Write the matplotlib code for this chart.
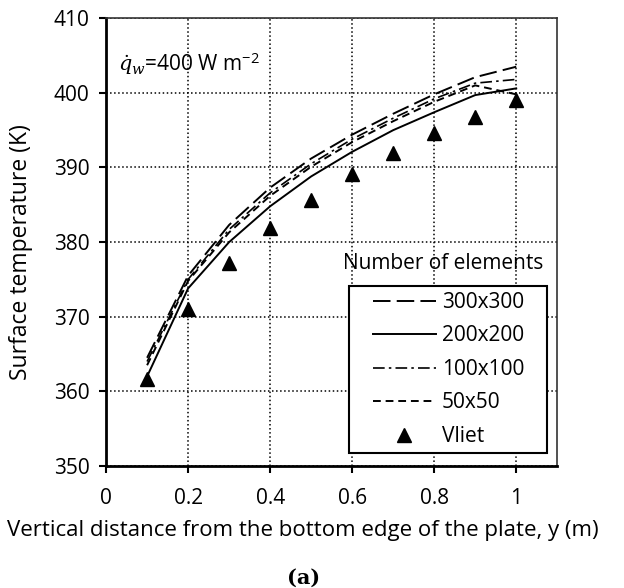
import numpy as np
import matplotlib.pyplot as plt
from matplotlib.patches import Rectangle

# data
y_pos = [0.1, 0.2, 0.3, 0.4, 0.5, 0.6, 0.7, 0.8, 0.9, 1.0]
t_300 = [364.5, 375.5, 382.3, 387.3, 391.2, 394.4, 397.2, 399.8, 402.1, 403.5]
t_200 = [362.0, 373.8, 380.0, 384.8, 388.8, 392.1, 395.0, 397.4, 399.7, 400.6]
t_100 = [364.0, 375.0, 381.7, 386.6, 390.5, 393.8, 396.6, 399.2, 401.3, 401.8]
t_50 = [363.5, 374.8, 381.3, 386.2, 390.1, 393.4, 396.2, 398.8, 401.0, 399.8]
t_vliet = [361.7, 371.0, 377.2, 381.9, 385.6, 389.1, 391.9, 394.6, 396.8, 399.0]

plt.rcParams['font.family'] = ['Open Sans', 'DejaVu Sans']
plt.rcParams['mathtext.fontset'] = 'dejavuserif'

fig = plt.figure(figsize=(6.24, 5.88), dpi=100)
ax = fig.add_axes([0.170, 0.2075, 0.723, 0.7615])

ax.plot(y_pos, t_300, color='black', lw=1.4, dashes=(9, 3.2), label='300x300')
ax.plot(y_pos, t_200, color='black', lw=1.4, ls='-', label='200x200')
ax.plot(y_pos, t_100, color='black', lw=1.2, dashes=(7, 2.5, 1.5, 2.5), label='100x100')
ax.plot(y_pos, t_50, color='black', lw=1.4, dashes=(4, 2.5), label='50x50')
ax.plot(y_pos, t_vliet, ls='none', marker='^', ms=10, color='black', label='Vliet')

ax.set_xlim(0, 1.1)
ax.set_ylim(350, 410)
ax.set_xticks([0, 0.2, 0.4, 0.6, 0.8, 1.0])
ax.set_xticklabels(['0', '0.2', '0.4', '0.6', '0.8', '1'])
ax.set_yticks(np.arange(350, 411, 10))
ax.grid(True, ls=':', color='black', lw=1.1)
ax.tick_params(labelsize=15, direction='out', length=5, width=1.5, pad=7)
ax.tick_params(axis='x', pad=11)

for s in ['left', 'bottom']:
    ax.spines[s].set_linewidth(2)
for s in ['top', 'right']:
    ax.spines[s].set_linewidth(1.2)
    ax.spines[s].set_color('#333333')

ax.set_xlabel('Vertical distance from the bottom edge of the plate, y (m)', fontsize=16, va='center')
ax.xaxis.set_label_coords(0.437, -0.143)
ax.set_ylabel('Surface temperature (K)', fontsize=16.5, va='center', ha='center')
ax.yaxis.set_label_coords(-0.188, 0.478)

ax.text(0.03, 403.9, r'$\dot{q}_w$=400 W m$^{\mathregular{-2}}$', fontsize=15, va='center')

ax.text(0.822, 377.2, 'Number of elements', fontsize=15, ha='center', va='center')

# legend box drawn separately (wide side padding in the original)
box = Rectangle((0.539, 0.029), 0.439, 0.373, transform=ax.transAxes,
                facecolor='white', edgecolor='black', lw=1.5, zorder=4)
ax.add_patch(box)
leg = ax.legend(loc='upper left', bbox_to_anchor=(0.592, 0.389), fontsize=15,
                frameon=False, handlelength=3.0, labelspacing=0.6,
                borderpad=0, handletextpad=0.3, borderaxespad=0)
leg.set_zorder(5)

fig.text(0.486, 0.017, '(a)', fontsize=15, fontweight='bold', family='DejaVu Serif',
         ha='center', va='center')

fig.savefig('out.png', dpi=100)
